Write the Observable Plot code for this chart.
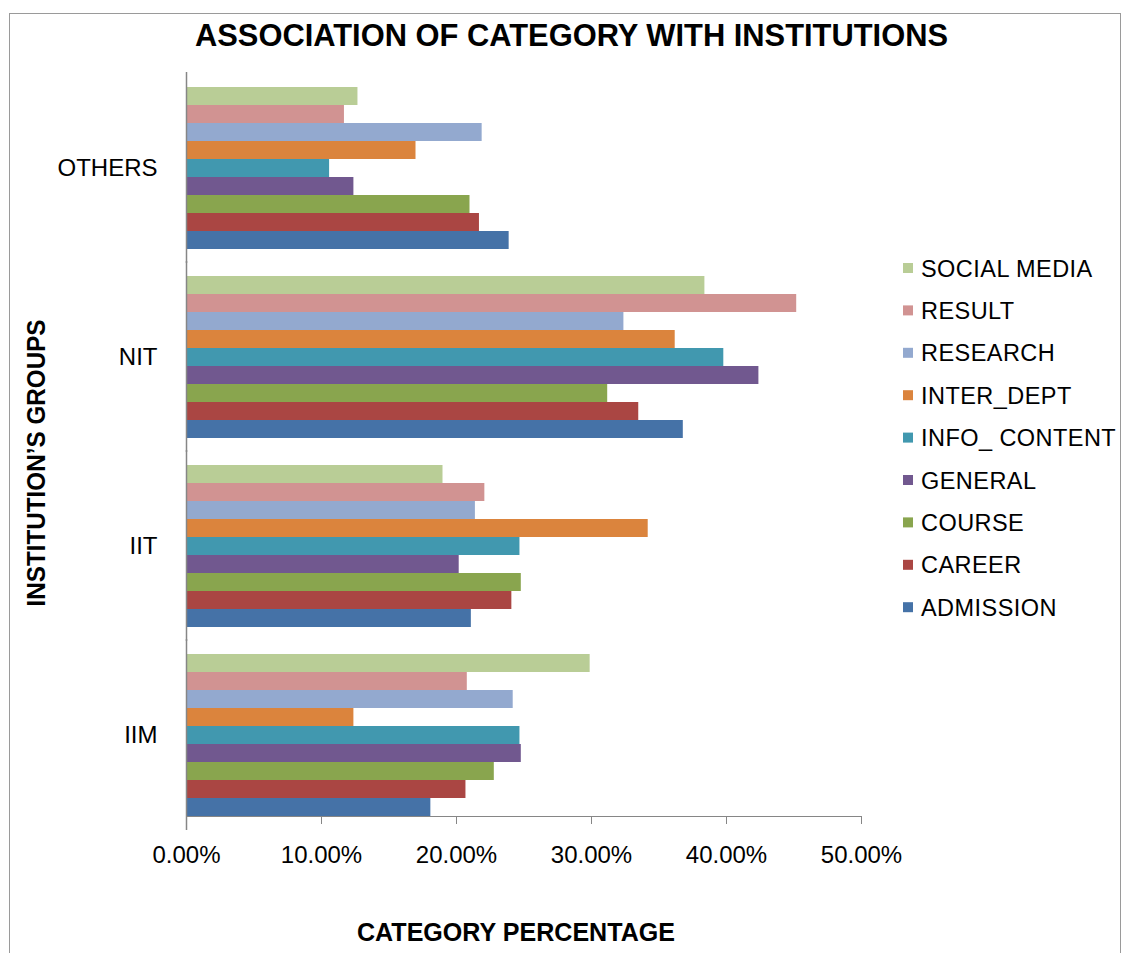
<!DOCTYPE html>
<html>
<head>
<meta charset="utf-8">
<script src="https://cdn.jsdelivr.net/npm/d3@7"></script>
<script src="https://cdn.jsdelivr.net/npm/@observablehq/plot@0.6"></script>
<style>
html, body { margin: 0; padding: 0; background: #fff; }
#wrap { position: relative; width: 1123px; height: 953px; overflow: hidden; background: #fff; }
#frame { position: absolute; left: 9px; top: 13px; width: 1112px; height: 1000px; border: 1.5px solid #9a9a9a; box-sizing: border-box; }
#chart, #overlay { position: absolute; left: 0; top: 0; }
#chart svg text { fill: #000; }
#chart svg line, #chart svg path { stroke: #868686; }
</style>
</head>
<body>
<div id="wrap">
  <div id="frame"></div>
  <div id="chart"></div>
  <svg id="overlay" width="1123" height="953"></svg>
</div>
<script>
// ---- data ----
const groups = ["OTHERS", "NIT", "IIT", "IIM"];
const categories = ["SOCIAL MEDIA", "RESULT", "RESEARCH", "INTER_DEPT", "INFO_ CONTENT", "GENERAL", "COURSE", "CAREER", "ADMISSION"];
const colors = ["#B9CD96", "#D19392", "#93A9CF", "#DB843D", "#4198AF", "#71588F", "#89A54E", "#AA4643", "#4572A7"];
// percentages, in the order of `categories`
const othersValues = [12.7, 11.7, 21.9, 17.0, 10.6, 12.4, 21.0, 21.7, 23.9];
const nitValues    = [38.4, 45.2, 32.4, 36.2, 39.8, 42.4, 31.2, 33.5, 36.8];
const iitValues    = [19.0, 22.1, 21.4, 34.2, 24.7, 20.2, 24.8, 24.1, 21.1];
const iimValues    = [29.9, 20.8, 24.2, 12.4, 24.7, 24.8, 22.8, 20.7, 18.1];
const xTicks = [0, 0.1, 0.2, 0.3, 0.4, 0.5];
const titleText = "ASSOCIATION OF CATEGORY WITH INSTITUTIONS";
const xLabel = "CATEGORY PERCENTAGE";
const yLabel = "INSTITUTION\u2019S GROUPS";

const seriesByGroup = { OTHERS: othersValues, NIT: nitValues, IIT: iitValues, IIM: iimValues };
const data = groups.flatMap(g => categories.map((c, i) => ({ group: g, category: c, value: seriesByGroup[g][i] / 100 })));

const FONT = '"Liberation Sans", Arial, Helvetica, sans-serif';

const plot = Plot.plot({
  width: 1123,
  height: 953,
  marginLeft: 186,
  marginRight: 262,
  marginTop: 72,
  marginBottom: 124,
  style: { fontFamily: FONT, fontSize: "24px", color: "#868686", background: "transparent", overflow: "visible" },
  x: { domain: [0, 0.5], ticks: xTicks, tickFormat: d3.format(".2%"), tickSize: 8, tickPadding: 21, label: null, line: true },
  y: { domain: categories, padding: 0, axis: null },
  fy: { domain: groups, paddingInner: 0.14, paddingOuter: 0.07, axis: "left", tickSize: 0, tickPadding: 29, label: null },
  color: { domain: categories, range: colors },
  marks: [
    Plot.barX(data, { x: "value", y: "category", fy: "group", fill: "category" }),
    Plot.ruleX([0], { stroke: "#868686", strokeWidth: 1.5, insetTop: -14, insetBottom: -14 })
  ]
});
document.getElementById("chart").appendChild(plot);

// ---- overlay texts and legend ----
const ov = d3.select("#overlay");
ov.append("text")
  .attr("x", 571.5).attr("y", 46)
  .attr("text-anchor", "middle")
  .attr("font-family", FONT).attr("font-weight", "bold").attr("font-size", 32)
  .attr("textLength", 753).attr("lengthAdjust", "spacingAndGlyphs")
  .text(titleText);
ov.append("text")
  .attr("x", 516).attr("y", 941)
  .attr("text-anchor", "middle")
  .attr("font-family", FONT).attr("font-weight", "bold").attr("font-size", 26)
  .attr("textLength", 318).attr("lengthAdjust", "spacingAndGlyphs")
  .text(xLabel);
ov.append("text")
  .attr("transform", "translate(45,463) rotate(-90)")
  .attr("text-anchor", "middle")
  .attr("font-family", FONT).attr("font-weight", "bold").attr("font-size", 26)
  .attr("textLength", 287).attr("lengthAdjust", "spacingAndGlyphs")
  .text(yLabel);

const legendTop = 268, legendStep = 42.4;
const lg = ov.append("g");
categories.forEach((c, i) => {
  const cy = legendTop + i * legendStep;
  lg.append("rect").attr("x", 903).attr("y", cy - 5).attr("width", 10).attr("height", 10).attr("fill", colors[i]);
  lg.append("text").attr("x", 921).attr("y", cy + 8.5)
    .attr("font-family", FONT).attr("font-size", 23.5).attr("letter-spacing", 0.45).attr("fill", "#000")
    .text(c);
});
</script>
</body>
</html>
